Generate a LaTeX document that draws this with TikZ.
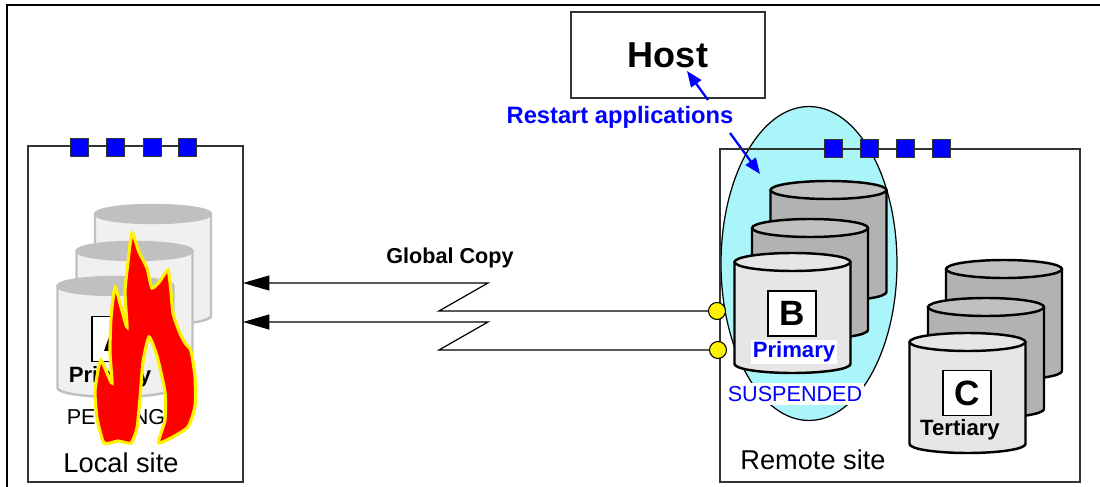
\documentclass[tikz,border=0pt]{standalone}
\usepackage{fontspec}
\setmainfont{Liberation Sans}
\usetikzlibrary{arrows.meta,shapes.geometric}

\definecolor{diskdark}{HTML}{B2B2B2}
\definecolor{disktop}{HTML}{C0C0C0}
\definecolor{disklight}{HTML}{E6E6E6}
\definecolor{diskfade}{HTML}{F0F0F0}
\definecolor{groupcyan}{HTML}{AAF5FA}

% one disk drum: x and y of the top centre, body fill, top fill, line colour
\newcommand{\dbdisk}[5]{%
  \filldraw[fill=#3, draw=#5, line width=1.4pt, line join=round]
    (#1-58,#2) -- (#1-58,#2+102)
    arc[start angle=180, end angle=0, x radius=58, y radius=9]
    -- (#1+58,#2) -- cycle;
  \filldraw[fill=#4, draw=#5, line width=1.4pt] (#1,#2) ellipse[x radius=58, y radius=9];
}

\begin{document}
\begin{tikzpicture}[x=0.02cm, y=-0.02cm,
    site/.style={draw=black!80, line width=0.8pt, inner sep=0pt},
    portsq/.style={rectangle, draw=black!80, line width=0.5pt, fill=blue,
                   minimum size=0.36cm, inner sep=0pt},
    joint/.style={circle, draw, line width=0.6pt, fill=yellow,
                  minimum size=0.34cm, inner sep=0pt},
    volid/.style={draw, line width=0.8pt, fill=white, minimum width=0.96cm,
                  minimum height=0.9cm, inner sep=0pt,
                  font=\fontsize{20}{24}\selectfont\bfseries},
    role/.style={inner sep=1pt, font=\fontsize{12.6}{15}\selectfont\bfseries},
    state/.style={inner xsep=1pt, inner ysep=2pt, font=\fontsize{12.3}{15}\selectfont},
    sitetxt/.style={font=\fontsize{15.5}{18}\selectfont},
    note/.style={text=blue, font=\fontsize{13.5}{16}\selectfont\bfseries},
    hint/.style={blue, line width=1.3pt, -{Triangle[length=9pt, width=7pt]}},
    link/.style={line width=0.7pt, -{Triangle[length=15pt, width=8.5pt]}}
]
\useasboundingbox (0,0) rectangle (1100,487);
\draw[line width=1.1pt] (7,487) -- (7,5) -- (1100,5);

% host and restart
\node[site, minimum width=3.88cm, minimum height=1.72cm,
      font=\fontsize{20.5}{24}\selectfont\bfseries] (host) at (668,55) {Host};
\node[note] (restart) at (620,117) {Restart applications};
\coordinate (r1) at (708,100);
\coordinate (r2) at (730,133);
\coordinate (hostin) at (687,71);
\coordinate (grpin) at (760,174);
\draw[hint] (r1) -- (hostin);

% remote site
\node[ellipse, draw, line width=0.7pt, fill=groupcyan, minimum width=3.52cm,
      minimum height=6.28cm, inner sep=0pt] (grp) at (809,263.5) {};
\draw[hint] (r2) -- (grpin);
\node[site, minimum width=7.2cm, minimum height=6.66cm] (remote) at (900,315.5) {};
\foreach \x in {833,869,905,941}
  \node[portsq] (rq\x) at (\x,148) {};

\dbdisk{828.5}{190}{diskdark}{disktop}{black}
\dbdisk{810}{228}{diskdark}{disktop}{black}
\dbdisk{792.5}{262}{disklight}{disklight}{black}
\dbdisk{1004}{269}{diskdark}{disktop}{black}
\dbdisk{986}{307}{diskdark}{disktop}{black}
\dbdisk{967.5}{342}{disklight}{disklight}{black}

\node[volid] (volB) at (792,313.5) {B};
\node[role, text=blue, fill=white] (roleB) at (794,352) {Primary};
\node[state, text=blue, fill=white] (stateB) at (795,394) {SUSPENDED};
\node[volid] (volC) at (967,393) {C};
\node[role] (roleC) at (960,430) {Tertiary};
\node[sitetxt] (remotetxt) at (813,460) {Remote site};

% local site
\node[site, minimum width=4.3cm, minimum height=6.72cm] (local) at (135.5,314) {};
\foreach \x in {79,115,152,187}
  \node[portsq] (lq\x) at (\x,147) {};

\dbdisk{153}{214}{diskfade}{disktop}{disktop}
\dbdisk{134.5}{251}{diskfade}{disktop}{disktop}
\dbdisk{115.5}{286}{diskfade}{disktop}{disktop}

\node[volid] (volA) at (116,339) {A};
\node[role] (roleA) at (110,377) {Primary};
\node[state] (stateA) at (116,417) {PENDING};

\filldraw[fill=red, draw=yellow, line width=1.8pt]
  plot[smooth cycle, tension=0.35] coordinates {
    (104,443) (97,418) (95,392) (98,370) (101,360) (107,373) (112,383)
    (110,352) (111,318) (115,287) (121,307) (127,327) (125,292) (128,262)
    (132,233) (139,252) (147,268) (152,288) (160,281) (168,270) (171,292)
    (173,313) (179,331) (185,343) (191,351) (195,377) (195,406) (187,428)
    (159,443) (165,420) (165,392) (157,356) (149,337) (143,362) (140,398)
    (137,428) (131,443) (118,441)};

\node[sitetxt] (localtxt) at (121,463) {Local site};

% global copy links
\node[font=\fontsize{12.3}{15}\selectfont\bfseries] (gc) at (450,258) {Global Copy};
\node[joint] (j1) at (717,311) {};
\node[joint] (j2) at (718,350) {};
\coordinate (a1) at (243,283);
\coordinate (a2) at (243,322);
\draw[link] (j1.west) -- (439,311) -- (488,283) -- (a1);
\draw[link] (j2.west) -- (439,350) -- (488,322) -- (a2);
\end{tikzpicture}
\end{document}
